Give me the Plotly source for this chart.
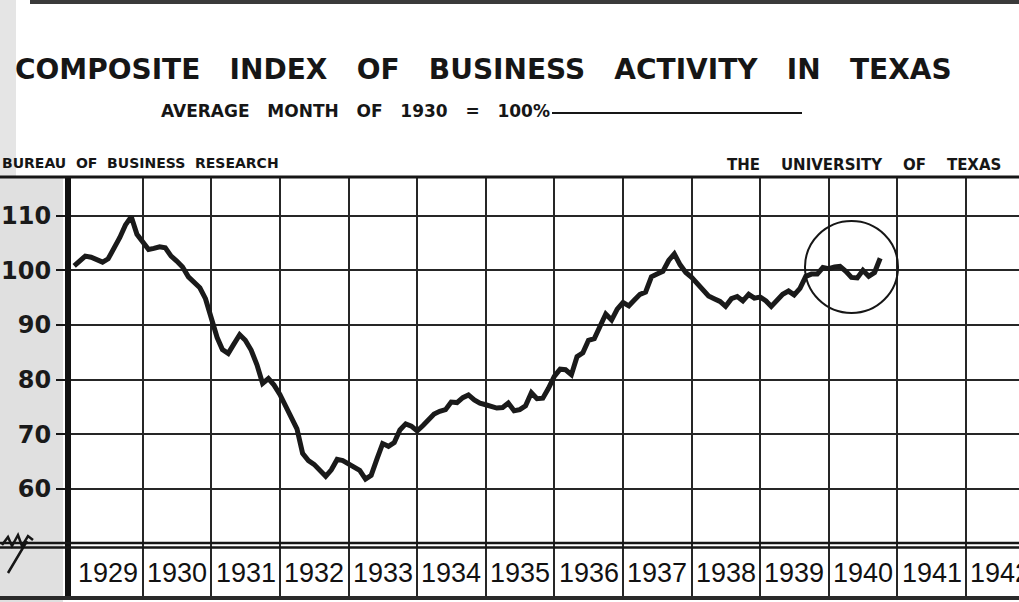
import pandas as pd
import plotly.graph_objects as go

# ---------------- data ----------------
TITLE = "COMPOSITE INDEX OF BUSINESS ACTIVITY IN TEXAS"
SUBTITLE = "AVERAGE MONTH OF 1930 = 100%"
SOURCE_LEFT = "BUREAU OF BUSINESS RESEARCH"
SOURCE_RIGHT = "THE UNIVERSITY OF TEXAS"

first_month = "1929-01-01"
index_1929 = [100.8, 101.7, 102.6, 102.4, 101.9, 101.5, 102.1, 104.0, 106.0, 108.3, 109.8, 106.6]
index_1930 = [105.0, 103.8, 104.0, 104.3, 104.1, 102.6, 101.7, 100.6, 98.8, 97.8, 96.8, 94.8]
index_1931 = [91.5, 87.7, 85.5, 84.8, 86.5, 88.2, 87.2, 85.4, 82.7, 79.3, 80.2, 79.0]
index_1932 = [77.3, 75.0, 73.3, 71.0, 66.5, 65.2, 64.5, 63.4, 62.3, 63.5, 65.4, 65.2]
index_1933 = [64.6, 64.2, 63.4, 61.8, 62.5, 65.5, 68.3, 67.8, 68.5, 70.8, 71.9, 71.5]
index_1934 = [70.6, 71.6, 72.6, 73.7, 74.2, 74.5, 75.9, 75.8, 76.7, 77.2, 76.3, 75.7]
index_1935 = [75.4, 75.2, 74.8, 74.9, 75.7, 74.3, 74.5, 75.2, 77.6, 76.5, 76.6, 78.4]
index_1936 = [80.6, 81.9, 81.8, 80.9, 84.2, 84.9, 87.2, 87.5, 90.0, 92.0, 90.9, 92.9]
index_1937 = [94.1, 93.5, 94.5, 95.6, 96.0, 98.8, 99.3, 99.8, 101.8, 103.0, 101.0, 99.6]
index_1938 = [98.7, 97.6, 96.6, 95.3, 94.8, 94.3, 93.4, 94.8, 95.2, 94.4, 95.6, 94.9]
index_1939 = [95.1, 94.4, 93.4, 94.4, 95.6, 96.2, 95.5, 96.7, 98.9, 99.3, 99.3, 100.5]
index_1940 = [100.3, 100.6, 100.7, 99.8, 98.7, 98.6, 100.0, 98.9, 99.6, 102.2]

year_labels = [str(y) for y in range(1929, 1943)]
y_ticks = [60, 70, 80, 90, 100, 110]
y_tick_text = ["60", "70", "80", "90", "100", "110"]

values = (index_1929 + index_1930 + index_1931 + index_1932 + index_1933 + index_1934
          + index_1935 + index_1936 + index_1937 + index_1938 + index_1939 + index_1940)
months = pd.date_range(first_month, periods=len(values), freq="MS")

# ---------------- layout helpers ----------------
W, H = 1019, 602
L, R, T, B = 71, 0, 176, 2
PW, PH = W - L - R, H - T - B


def px(x):
    return (x - L) / PW


def py(y):
    return (H - B - y) / PH


def spaced(s, n):
    return ("\u00a0" * n).join(s.split(" "))


INK = "#161616"
GRID = "#262626"

fig = go.Figure()
fig.add_trace(go.Scatter(
    x=months, y=values, mode="lines",
    line=dict(color="#1a1a1a", width=5),
    hoverinfo="skip", showlegend=False,
))

shapes = []
# scanned-page grey strip on the left
shapes.append(dict(type="rect", xref="paper", yref="paper", x0=px(0), x1=px(63),
                   y0=py(602), y1=py(178), fillcolor="rgba(160,160,160,0.33)",
                   line=dict(width=0), layer="below"))
shapes.append(dict(type="rect", xref="paper", yref="paper", x0=px(0), x1=px(16),
                   y0=py(178), y1=py(0), fillcolor="rgba(160,160,160,0.28)",
                   line=dict(width=0), layer="below"))
# dark edge at top of the page
shapes.append(dict(type="rect", xref="paper", yref="paper", x0=px(30), x1=px(1019),
                   y0=py(4), y1=py(0), fillcolor="#3a3a3a", line=dict(width=0)))
# top border of chart
shapes.append(dict(type="line", xref="paper", yref="paper", x0=px(0), x1=px(1019),
                   y0=py(177), y1=py(177), line=dict(color=INK, width=3)))
# double base line
for yy in (543, 547.5):
    shapes.append(dict(type="line", xref="paper", yref="paper", x0=px(0), x1=px(1019),
                       y0=py(yy), y1=py(yy), line=dict(color=INK, width=2.5)))
# bottom border
shapes.append(dict(type="line", xref="paper", yref="paper", x0=px(0), x1=px(1019),
                   y0=py(598), y1=py(598), line=dict(color="#2a2a2a", width=4)))
# rule after the subtitle
shapes.append(dict(type="line", xref="paper", yref="paper", x0=px(552), x1=px(802),
                   y0=py(113), y1=py(113), line=dict(color=INK, width=2)))
# circle around the latest readings
shapes.append(dict(type="circle", xref="paper", yref="paper", x0=px(805), x1=px(898),
                   y0=py(313), y1=py(221), line=dict(color=INK, width=2)))
# axis-break squiggle
pts = [(2, 545), (8, 537), (12, 546), (18, 535), (22, 546), (28, 536), (33, 540)]
path = "M " + " L ".join(f"{px(a):.5f},{py(b):.5f}" for a, b in pts)
path += f" M {px(27):.5f},{py(541):.5f} L {px(8):.5f},{py(573):.5f}"
shapes.append(dict(type="path", xref="paper", yref="paper", path=path,
                   line=dict(color=INK, width=2.5)))

annotations = []
annotations.append(dict(text="<b>" + spaced(TITLE, 3) + "</b>", xref="paper", yref="paper",
                        x=px(13), y=py(69), xanchor="left", yanchor="middle", showarrow=False,
                        font=dict(family="DejaVu Sans", size=28, color=INK)))
annotations.append(dict(text="<b>" + spaced(SUBTITLE, 3) + "</b>", xref="paper", yref="paper",
                        x=px(159), y=py(111), xanchor="left", yanchor="middle", showarrow=False,
                        font=dict(family="DejaVu Sans", size=17, color=INK)))
annotations.append(dict(text="<b>" + spaced(SOURCE_LEFT, 2) + "</b>", xref="paper", yref="paper",
                        x=px(0), y=py(163), xanchor="left", yanchor="middle", showarrow=False,
                        font=dict(family="DejaVu Sans", size=14, color=INK)))
annotations.append(dict(text="<b>" + spaced(SOURCE_RIGHT, 4) + "</b>", xref="paper", yref="paper",
                        x=px(1003), y=py(165), xanchor="right", yanchor="middle", showarrow=False,
                        font=dict(family="DejaVu Sans", size=15, color=INK)))
for lab in year_labels:
    annotations.append(dict(text=lab, xref="x", yref="y", x=f"{lab}-07-02", y=44.6,
                            xanchor="center", yanchor="middle", showarrow=False,
                            font=dict(family="Liberation Sans", size=27, color="#111111")))

fig.update_layout(
    width=W, height=H,
    margin=dict(l=L, r=R, t=T, b=B, pad=0),
    paper_bgcolor="white", plot_bgcolor="white",
    showlegend=False,
    shapes=shapes, annotations=annotations,
    xaxis=dict(type="date", range=["1928-12-15", "1942-10-10"],
               tickvals=[f"{y}-01-01" for y in range(1930, 1943)],
               showticklabels=False, ticks="", showgrid=True, gridcolor=GRID, gridwidth=2,
               zeroline=False, showline=False, fixedrange=True),
    yaxis=dict(range=[39.68, 117.25], tickvals=y_ticks, ticktext=y_tick_text,
               ticks="outside", ticklen=9, tickwidth=2, tickcolor=INK,
               showline=True, linewidth=6, linecolor="#111111",
               showgrid=True, gridcolor=GRID, gridwidth=2, zeroline=False,
               tickfont=dict(family="DejaVu Sans", size=24, color="#1a1a1a", weight="bold"),
               fixedrange=True),
)

fig.write_html(
    "out.html",
    config={"displayModeBar": False},
    post_script="document.body.style.margin='0';document.body.style.overflow='hidden';",
)
